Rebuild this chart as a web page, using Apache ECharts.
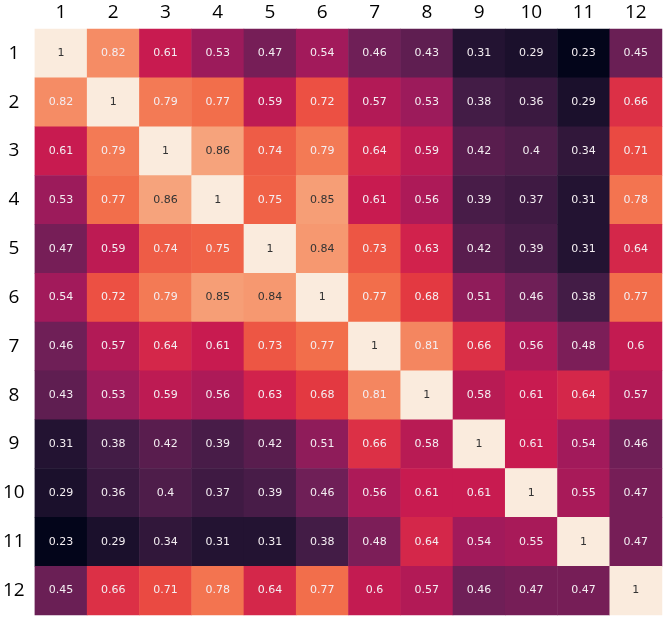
<!DOCTYPE html>
<html lang="en">
<head>
    <meta charset="UTF-8">
    <title>heatmap_corr</title>
    <style type="text/css">
        html, body { margin: 0; padding: 0; background: #fff; }
        #box { width: 665px; height: 618px; }
    </style>
</head>
<body>
<div id="box"></div>
<script type="text/javascript" src="https://cdn.jsdelivr.net/npm/echarts@6/dist/echarts.min.js"></script>
<script type="text/javascript">
    // labels for both axes
    let labels = ['1', '2', '3', '4', '5', '6', '7', '8', '9', '10', '11', '12'];

    // one array per row of the matrix
    let row1 = [1, 0.82, 0.61, 0.53, 0.47, 0.54, 0.46, 0.43, 0.31, 0.29, 0.23, 0.45];
    let row2 = [0.82, 1, 0.79, 0.77, 0.59, 0.72, 0.57, 0.53, 0.38, 0.36, 0.29, 0.66];
    let row3 = [0.61, 0.79, 1, 0.86, 0.74, 0.79, 0.64, 0.59, 0.42, 0.4, 0.34, 0.71];
    let row4 = [0.53, 0.77, 0.86, 1, 0.75, 0.85, 0.61, 0.56, 0.39, 0.37, 0.31, 0.78];
    let row5 = [0.47, 0.59, 0.74, 0.75, 1, 0.84, 0.73, 0.63, 0.42, 0.39, 0.31, 0.64];
    let row6 = [0.54, 0.72, 0.79, 0.85, 0.84, 1, 0.77, 0.68, 0.51, 0.46, 0.38, 0.77];
    let row7 = [0.46, 0.57, 0.64, 0.61, 0.73, 0.77, 1, 0.81, 0.66, 0.56, 0.48, 0.6];
    let row8 = [0.43, 0.53, 0.59, 0.56, 0.63, 0.68, 0.81, 1, 0.58, 0.61, 0.64, 0.57];
    let row9 = [0.31, 0.38, 0.42, 0.39, 0.42, 0.51, 0.66, 0.58, 1, 0.61, 0.54, 0.46];
    let row10 = [0.29, 0.36, 0.4, 0.37, 0.39, 0.46, 0.56, 0.61, 0.61, 1, 0.55, 0.47];
    let row11 = [0.23, 0.29, 0.34, 0.31, 0.31, 0.38, 0.48, 0.64, 0.54, 0.55, 1, 0.47];
    let row12 = [0.45, 0.66, 0.71, 0.78, 0.64, 0.77, 0.6, 0.57, 0.46, 0.47, 0.47, 1];

    let rows = [row1, row2, row3, row4, row5, row6, row7, row8, row9, row10, row11, row12];

    // rocket-like colour ramp, 0 -> 1
    let rocket = ['#03051A', '#221331', '#451C47', '#701F57', '#A11A5B', '#CB1B4F',
        '#E83F3F', '#F26D4A', '#F69C73', '#F8C5A6', '#FAEBDD'];

    let data = [];
    for (let r = 0; r < rows.length; r++) {
        for (let c = 0; c < rows[r].length; c++) {
            let v = rows[r][c];
            data.push({
                value: [c, r, v],
                label: {color: v >= 0.84 ? '#333333' : '#f4eef2'}
            });
        }
    }

    let myChart = echarts.init(document.getElementById('box'));
    let option = {
        animation: false,
        grid: {left: 33, top: 29, width: 629, height: 586},
        xAxis: {
            type: 'category',
            position: 'top',
            data: labels,
            axisLine: {show: false},
            axisTick: {show: false},
            splitLine: {show: false},
            axisLabel: {
                color: '#000',
                fontSize: 19,
                fontFamily: 'Open Sans',
                margin: 7
            }
        },
        yAxis: {
            type: 'category',
            inverse: true,
            data: labels,
            axisLine: {show: false},
            axisTick: {show: false},
            splitLine: {show: false},
            axisLabel: {
                color: '#000',
                fontSize: 19,
                fontFamily: 'Open Sans',
                align: 'center',
                margin: 21
            }
        },
        visualMap: {
            show: false,
            min: 0.23,
            max: 1,
            dimension: 2,
            inRange: {color: rocket}
        },
        series: [
            {
                type: 'heatmap',
                data: data,
                label: {
                    show: true,
                    fontSize: 11,
                    fontFamily: 'DejaVu Sans',
                    formatter: function (p) {
                        return String(p.value[2]);
                    }
                },
                itemStyle: {borderWidth: 0},
                emphasis: {disabled: true}
            }
        ]
    };
    myChart.setOption(option);
</script>
</body>
</html>
